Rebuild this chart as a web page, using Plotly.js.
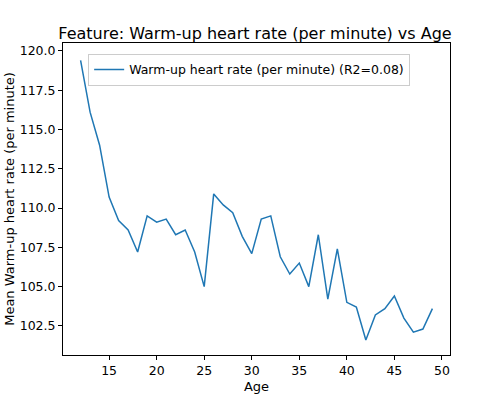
<!DOCTYPE html>
<html><head><script src="https://cdn.plot.ly/plotly-3.0.1.min.js"></script>
<style>body{margin:0}</style></head><body><div id="c" style="width:500px;height:400px"></div>
<script>
const ages=[12,13,14,15,16,17,18,19,20,21,22,23,24,25,26,27,28,29,30,31,32,33,34,35,36,37,38,39,40,41,42,43,44,45,46,47,48,49];
const rates=[119.4,116.1,114.0,110.7,109.2,108.6,107.2,109.5,109.1,109.3,108.3,108.6,107.2,105.0,110.9,110.2,109.7,108.2,107.1,109.3,109.5,106.9,105.8,106.5,105.0,108.3,104.2,107.4,104.0,103.7,101.6,103.2,103.6,104.4,103.0,102.1,102.3,103.6];
const ax={showgrid:false,zeroline:false,showline:true,mirror:true,linecolor:'#000',ticks:'outside',ticklen:4,tickcolor:'#000',tickfont:{family:'DejaVu Sans',size:12.5,color:'#000'}};
Plotly.newPlot('c',[{x:ages,y:rates,mode:'lines',line:{color:'#1f77b4',width:1.5},name:'Warm-up heart rate (per minute) (R2=0.08)'}],{
width:500,height:400,margin:{l:63,r:50,t:43,b:45},paper_bgcolor:'#fff',plot_bgcolor:'#fff',
title:{text:'Feature: Warm-up heart rate (per minute) vs Age',font:{family:'DejaVu Sans',size:16,color:'#000'},x:0.51,y:0.93,xanchor:'center'},
xaxis:Object.assign({},ax,{range:[10.15,50.85],tickvals:[15,20,25,30,35,40,45,50],title:{text:'Age',font:{family:'DejaVu Sans',size:13,color:'#000'},standoff:4}}),
yaxis:Object.assign({},ax,{range:[100.65,120.5],tickvals:[102.5,105,107.5,110,112.5,115,117.5,120],ticktext:['102.5','105.0','107.5','110.0','112.5','115.0','117.5','120.0'],title:{text:'Mean Warm-up heart rate (per minute)',font:{family:'DejaVu Sans',size:13,color:'#000'},standoff:2}}),
showlegend:true,legend:{x:0.065,y:0.965,xanchor:'left',yanchor:'top',bordercolor:'#ccc',borderwidth:1,bgcolor:'rgba(255,255,255,0.8)',font:{family:'DejaVu Sans',size:12.5,color:'#000'}}
},{displayModeBar:false});
</script></body></html>
